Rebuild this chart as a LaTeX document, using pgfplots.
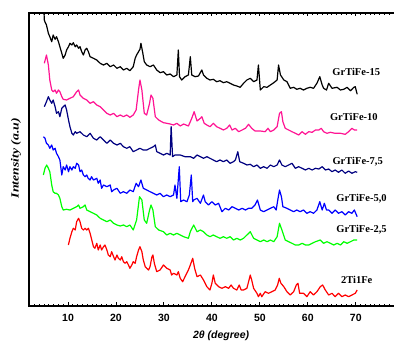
\documentclass[border=0pt]{standalone}
\usepackage{pgfplots}
\pgfplotsset{compat=1.18}
\usepackage{fontspec}
\usepackage{graphicx}
\setmainfont{Liberation Serif}
\newfontfamily\arialf{Liberation Sans}
\definecolor{pinkc}{RGB}{255,20,147}
\definecolor{navyc}{RGB}{0,0,128}
\definecolor{bluec}{RGB}{0,0,255}
\definecolor{greenc}{RGB}{0,255,0}
\definecolor{redc}{RGB}{255,0,0}
\begin{document}
\begin{tikzpicture}
\begin{axis}[
 name=ax,
 scale only axis, width=368pt, height=293pt,
 xmin=1.86, xmax=78.6, ymin=0, ymax=293,
 clip=false,
 axis line style={line width=1.4pt},
 xtick={10,20,...,70}, minor xtick={2,3,...,78},
 ytick=\empty,
 major tick length=3.5pt, minor tick length=2.2pt,
 every tick/.style={black, line width=0.9pt},
 tick align=inside,
 /pgf/number format/assume math mode=true,
 xticklabel style={font=\arialf\bfseries\fontsize{10.5}{12}\selectfont, yshift=-5pt},
 xlabel={\arialf\bfseries\itshape 2θ (degree)},
 xlabel style={at={(axis description cs:0.522,-0.1024)}, anchor=center, font=\fontsize{10.5}{12}\selectfont},
 ylabel={\scalebox{1.25}[1]{\bfseries\itshape Intensity (a.u)}},
 ylabel style={at={(axis description cs:-0.0353,0.505)}, anchor=center, font=\fontsize{11}{13}\selectfont},
 every axis plot/.append style={line width=1.2pt, mark=none, line join=round},
]
% GrTiFe-15
\addplot[black] coordinates {(5.0,292)(5.06,286)(5.2,284)(5.5,281)(5.9,272.7)(6.2,269.3)(6.6,264.3)(6.9,271)(7.3,266.7)(7.6,269.3)(8.0,264.3)(8.3,259.3)(8.7,252.7)(9.0,247.7)(9.4,251)(9.7,256)(10.1,259.3)(10.4,262.7)(10.8,261)(11.1,263.3)(11.5,259.3)(11.8,261)(12.2,257.7)(12.5,259.3)(12.85,254.3)(13.2,251)(13.55,256)(13.9,257.7)(14.25,254.3)(14.6,249.3)(15.3,247.7)(16.0,246)(16.7,242.7)(17.4,241)(18.1,242.7)(18.8,239.3)(19.5,241)(20.2,237.7)(20.9,239.3)(21.55,236)(22.25,237.7)(22.9,235.3)(23.6,239.3)(24.0,247.7)(24.3,251)(24.7,254.3)(25.0,256.7)(25.2,262.7)(25.6,252.7)(25.9,244.3)(26.4,241)(27.1,239.3)(27.8,241)(28.5,236)(29.2,233.3)(29.9,234.3)(30.6,231)(31.3,232)(32.0,229.3)(32.7,231)(33.0,256)(33.25,229.3)(33.7,226)(34.4,229.3)(35.1,231)(35.5,249.3)(35.8,231)(36.5,229.3)(37.2,230)(37.9,236)(38.25,231)(38.95,227.7)(39.6,226)(40.3,226.7)(41.0,224.3)(41.7,225.3)(42.4,223.3)(43.1,224.3)(43.8,222.7)(44.5,221)(45.2,220)(45.9,218.7)(46.6,222.7)(47.3,226)(48.0,227.7)(48.7,224.3)(49.4,226)(49.7,241)(50.1,216)(50.8,219.3)(51.5,218.7)(52.2,221)(52.9,223.3)(53.6,226)(53.9,241)(54.3,231)(55.0,226)(55.65,224.3)(56.35,217.7)(57.05,218.7)(57.7,216.7)(58.4,217.7)(59.1,216)(59.8,217.7)(60.5,218.7)(61.2,217.7)(61.9,222.7)(62.5,229.3)(63.0,221)(63.3,217.7)(63.9,216)(64.35,222.7)(65.05,217.7)(66.1,218.7)(66.8,216)(67.5,216.7)(68.2,218.7)(68.9,215.3)(69.6,218.7)(69.9,219.3)(70.3,211.7)};
% GrTiFe-10
\addplot[pinkc] coordinates {(5.06,242.7)(5.5,251)(5.9,241)(6.2,226)(6.6,216)(6.9,214.3)(7.3,216)(7.6,212.7)(8.0,216)(8.3,214.3)(8.7,209.3)(9.0,206.7)(9.7,206)(10.4,207.7)(11.1,209.3)(11.8,214.3)(12.2,216)(12.5,211)(13.2,207.7)(13.9,206)(14.6,202.7)(15.3,204.3)(16.0,201)(16.7,199.3)(17.4,196)(18.1,192.7)(18.8,191)(19.5,192.7)(20.2,189.3)(20.9,191)(21.55,189.3)(22.25,191)(22.9,188.7)(23.6,191)(24.2,196)(24.7,216)(25.0,226)(25.4,216)(25.9,192.7)(26.4,191)(27.0,202.7)(27.3,211)(27.7,207.7)(28.2,189.3)(28.9,186)(29.9,183.3)(30.6,182.7)(31.3,182)(32.0,181)(32.7,182.7)(33.4,180)(34.1,182)(35.1,180)(35.5,184.3)(35.8,187.7)(36.3,194.3)(36.9,185)(37.6,187.7)(37.9,189.3)(38.4,182.7)(38.95,181)(39.6,179.3)(40.3,182.7)(41.0,179.3)(41.7,177.7)(42.4,176)(43.1,177.7)(43.7,181)(44.2,176)(44.9,177.7)(45.6,174.3)(46.3,176)(47.0,177.7)(47.65,181.7)(48.3,177.7)(49.0,175)(50.1,175)(51.1,174.3)(51.7,177.7)(52.2,174.3)(52.9,176)(53.6,179.3)(54.1,192.7)(54.5,194.3)(54.8,184.3)(55.3,177.7)(56.0,176)(56.7,174.3)(57.4,172.7)(58.1,171)(58.8,174.3)(59.5,171.7)(60.2,174.3)(60.9,173.7)(61.6,176)(62.3,176)(62.8,177.7)(63.3,174.3)(64.0,172.7)(64.7,173.7)(65.7,172.7)(66.8,172.7)(67.8,171.7)(68.5,174.3)(69.2,177.7)(69.7,176)(70.3,176)};
% GrTiFe-7,5
\addplot[navyc] coordinates {(5.06,199.3)(5.5,204.3)(5.9,209.3)(6.2,206)(6.6,202.7)(6.9,206)(7.3,199.3)(7.6,192.7)(8.0,194.3)(8.3,189.3)(8.7,197.7)(9.0,199.3)(9.4,201)(9.7,196)(10.1,186)(10.4,179.3)(10.8,172.7)(11.1,171)(11.5,174.3)(11.8,172.7)(12.5,174.3)(13.2,171)(13.9,169.3)(14.6,172.7)(15.3,167.7)(16.0,166)(16.7,169.3)(17.4,166)(18.1,162.7)(18.8,166)(19.5,162.7)(20.2,161)(20.9,162.7)(21.55,159.3)(22.25,157.7)(22.9,159.3)(23.6,154.3)(24.3,156)(25.0,157.7)(25.7,156)(26.4,156)(27.1,157.7)(27.8,159.3)(28.2,161)(28.5,154.3)(29.2,152.7)(29.9,151)(30.6,152.7)(31.3,151)(31.5,179.3)(31.8,149.3)(32.3,151)(33.4,151)(34.4,149.3)(35.5,149.3)(36.2,147.7)(36.9,151)(37.6,149.3)(38.25,147.7)(38.95,149.3)(39.6,147.7)(40.3,146)(41.0,144.3)(41.7,146)(42.4,144.3)(43.1,146)(43.8,142.7)(44.5,144.3)(44.9,146)(45.4,154.3)(45.8,144.3)(46.6,142.7)(47.3,141)(48.0,141.7)(48.7,139.3)(49.4,141)(50.1,137.7)(50.8,139.3)(51.5,137.7)(52.2,141)(52.9,139.3)(53.6,141)(54.1,146)(54.6,141)(55.3,139.3)(56.0,141)(56.7,142.7)(57.4,137.7)(58.1,139.3)(58.8,137.7)(59.5,136)(60.2,137.7)(60.9,136)(61.6,137.7)(62.3,137)(63.0,139.3)(63.7,136)(64.35,137)(65.05,134.3)(65.7,136)(66.4,133.7)(67.1,136)(67.8,132.7)(68.5,135)(69.2,132.7)(69.9,134.3)(70.3,133.7)};
% GrTiFe-5,0
\addplot[bluec] coordinates {(4.85,169.3)(5.2,167.7)(5.5,162.7)(5.9,161)(6.2,157.7)(6.6,161)(6.9,156)(7.3,157.7)(7.6,152.7)(8.0,149.3)(8.3,146)(8.7,131)(9.0,139.3)(9.4,136)(9.7,141)(10.1,134.3)(10.4,139.3)(10.8,136)(11.1,139.3)(11.5,137.7)(11.8,142.7)(12.2,141)(12.5,134.3)(12.85,136)(13.2,131)(13.55,129.3)(13.9,131)(14.2,127.7)(14.6,126)(14.9,129.3)(15.3,126)(16.0,127.7)(16.3,122.7)(16.7,126)(17.0,117.7)(17.4,121)(18.1,119.3)(18.8,121)(19.1,114.3)(19.5,116)(20.2,117.7)(20.9,112.7)(21.55,114.3)(22.25,112.7)(22.9,116)(23.6,114.3)(24.2,122.7)(24.7,119.3)(25.2,126)(25.7,117.7)(26.4,116)(27.1,114.3)(27.8,112.7)(28.5,111)(29.2,112.7)(29.9,109.3)(30.6,111)(31.3,109.3)(32.0,111)(32.3,121)(32.7,107.7)(33.2,139.3)(33.5,104.3)(34.1,106)(34.8,104.3)(35.3,111)(35.7,131)(36.0,104.3)(36.2,106)(36.9,107.7)(37.6,102.7)(38.25,111)(38.6,104.3)(39.3,101)(40.0,104.3)(40.7,101)(41.4,102.7)(42.1,94.3)(42.8,97.7)(43.5,96)(44.2,99.3)(44.9,97.7)(45.6,96)(46.3,97.7)(47.0,96)(47.65,97.7)(48.3,97.7)(49.0,101)(49.5,106)(50.1,96)(50.8,94.3)(51.5,96)(52.2,97.7)(52.9,99.3)(53.4,96)(53.8,107.7)(54.1,116)(54.5,109.3)(54.8,99.3)(55.65,97.7)(56.35,96)(57.05,94.3)(57.7,96)(58.4,94.3)(59.1,96)(59.8,92.7)(60.5,94.3)(61.2,92.7)(61.9,96)(62.5,104.3)(63.0,96)(63.45,102.7)(63.9,96)(64.35,96)(65.05,92.7)(65.7,96)(66.4,92.7)(67.1,94.3)(67.8,91)(68.5,94.3)(69.2,92.7)(69.7,96)(70.3,89.3)};
% GrTiFe-2,5
\addplot[greenc] coordinates {(4.85,131)(5.2,137.7)(5.55,141)(5.9,137.7)(6.2,134.3)(6.6,121)(6.9,114.3)(7.3,112.7)(7.6,112.7)(8.0,111)(8.3,107.7)(8.7,99.3)(9.0,96)(9.7,96.7)(10.4,96)(11.1,97.7)(11.8,99.3)(12.2,101)(12.5,97.7)(13.2,99.3)(13.55,101)(13.9,96)(14.6,94.3)(15.3,92.7)(16.0,91)(16.7,87.7)(17.4,86)(18.1,84.3)(18.8,86)(19.5,82.7)(20.2,81)(20.9,80)(21.55,81)(22.25,79.3)(22.9,81)(23.6,76)(24.3,86)(24.9,109.3)(25.4,106)(25.9,86)(26.4,82.7)(27.0,96)(27.3,101)(27.7,96)(28.2,79.3)(28.9,76)(29.9,74.3)(30.6,71)(31.3,72.7)(32.0,71)(32.7,72.7)(33.4,71)(34.1,69.3)(35.1,67.7)(35.5,74.3)(36.2,81)(36.9,74.3)(37.6,76)(38.25,74.3)(38.95,71)(39.6,69.3)(40.3,71)(41.0,69.3)(41.7,67.7)(42.4,69.3)(43.1,67.7)(43.8,69.3)(44.5,66)(45.2,67.7)(45.9,66)(46.6,67.7)(47.3,71)(48.0,74.3)(48.7,67.7)(49.4,66)(50.1,64.3)(50.8,66)(51.5,64.3)(52.2,66)(52.9,64.3)(53.6,69.3)(54.1,82.7)(54.6,76)(55.3,66)(56.0,64.3)(56.7,62.7)(57.4,61)(58.1,61)(58.8,62.7)(59.5,61)(60.2,61)(60.9,62.7)(61.6,64.3)(62.6,66)(63.3,62.7)(64.0,64.3)(64.7,62.7)(65.4,61)(66.1,62.7)(66.8,61)(67.5,64.3)(68.2,62.7)(68.9,64.3)(69.6,66)(70.3,66)};
% 2Ti1Fe
\addplot[redc] coordinates {(10.07,61)(10.4,67.7)(10.8,74.3)(11.1,77.7)(11.5,76)(11.8,84.3)(12.2,87.7)(12.5,84.3)(12.85,77.7)(13.2,76)(13.55,77.7)(13.9,76)(14.25,77.7)(14.6,72.7)(14.95,66)(15.3,59.3)(15.6,57.7)(16.0,62.7)(16.3,56)(16.7,61)(17.0,56)(17.4,59.3)(17.7,61)(18.1,56)(18.4,51)(18.8,49.3)(19.1,54.3)(19.5,49.3)(19.8,46)(20.2,51)(20.5,47.7)(20.9,46)(21.2,49.3)(21.55,44.3)(21.9,42.7)(22.25,44.3)(22.6,41)(22.9,37.7)(23.3,41)(23.6,44.3)(24.0,42.7)(24.3,49.3)(24.7,56)(25.0,59.3)(25.4,54.3)(25.7,46)(26.1,39.3)(26.4,37.7)(26.8,36)(27.1,39.3)(27.5,49.3)(27.7,51)(28.0,42.7)(28.5,34.3)(29.2,36)(29.9,41)(30.6,37.7)(31.3,36)(31.6,31)(32.0,32.7)(32.7,31)(33.0,34.3)(33.4,27.7)(33.9,24.3)(34.4,29.3)(35.1,36)(35.5,41)(36.0,47.7)(36.4,37.7)(36.9,29.3)(37.6,31)(38.25,26)(38.95,19.3)(39.6,16)(40.0,22.7)(40.3,31)(40.7,22.7)(41.4,19.3)(42.1,17.7)(42.8,19.3)(43.5,17.7)(44.0,21)(44.5,17.7)(45.2,16)(45.7,21)(46.1,16)(46.6,16)(47.3,17.7)(47.65,24.3)(48.0,31)(48.3,26)(48.7,17.7)(49.4,12.7)(49.7,9.3)(50.1,12.7)(50.4,9.3)(51.1,14.3)(51.8,12.7)(52.5,14.3)(53.2,16)(53.7,21)(54.05,27.7)(54.4,22.7)(55.0,19.3)(55.65,14.3)(56.35,11)(57.05,14.3)(57.6,21)(57.95,22.7)(58.3,12.7)(59.1,12.7)(59.8,9.3)(60.5,14.3)(61.2,11)(61.9,14.3)(62.6,19.3)(63.1,21)(63.65,16)(64.35,11)(65.05,12.7)(65.7,9.3)(66.4,12.7)(67.1,9.3)(67.8,11)(68.5,9.3)(69.2,11)(69.9,12.7)(70.3,16)};
\begin{scope}[every node/.style={font=\bfseries\fontsize{10.5}{12}\selectfont, inner sep=0pt}]
\node at (axis cs:70.1,234) {GrTiFe-15};
\node at (axis cs:69.6,189.3) {GrTiFe-10};
\node at (axis cs:70.4,144.3) {GrTiFe-7,5};
\node at (axis cs:71.2,107.7) {GrTiFe-5,0};
\node at (axis cs:71.2,76) {GrTiFe-2,5};
\node at (axis cs:70.2,26) {2Ti1Fe};
\end{scope}
\end{axis}
\pgfresetboundingbox
\path ([shift={(-29pt,-37pt)}]ax.south west) rectangle ([shift={(-3pt,13pt)}]ax.north east);
\end{tikzpicture}
\end{document}
